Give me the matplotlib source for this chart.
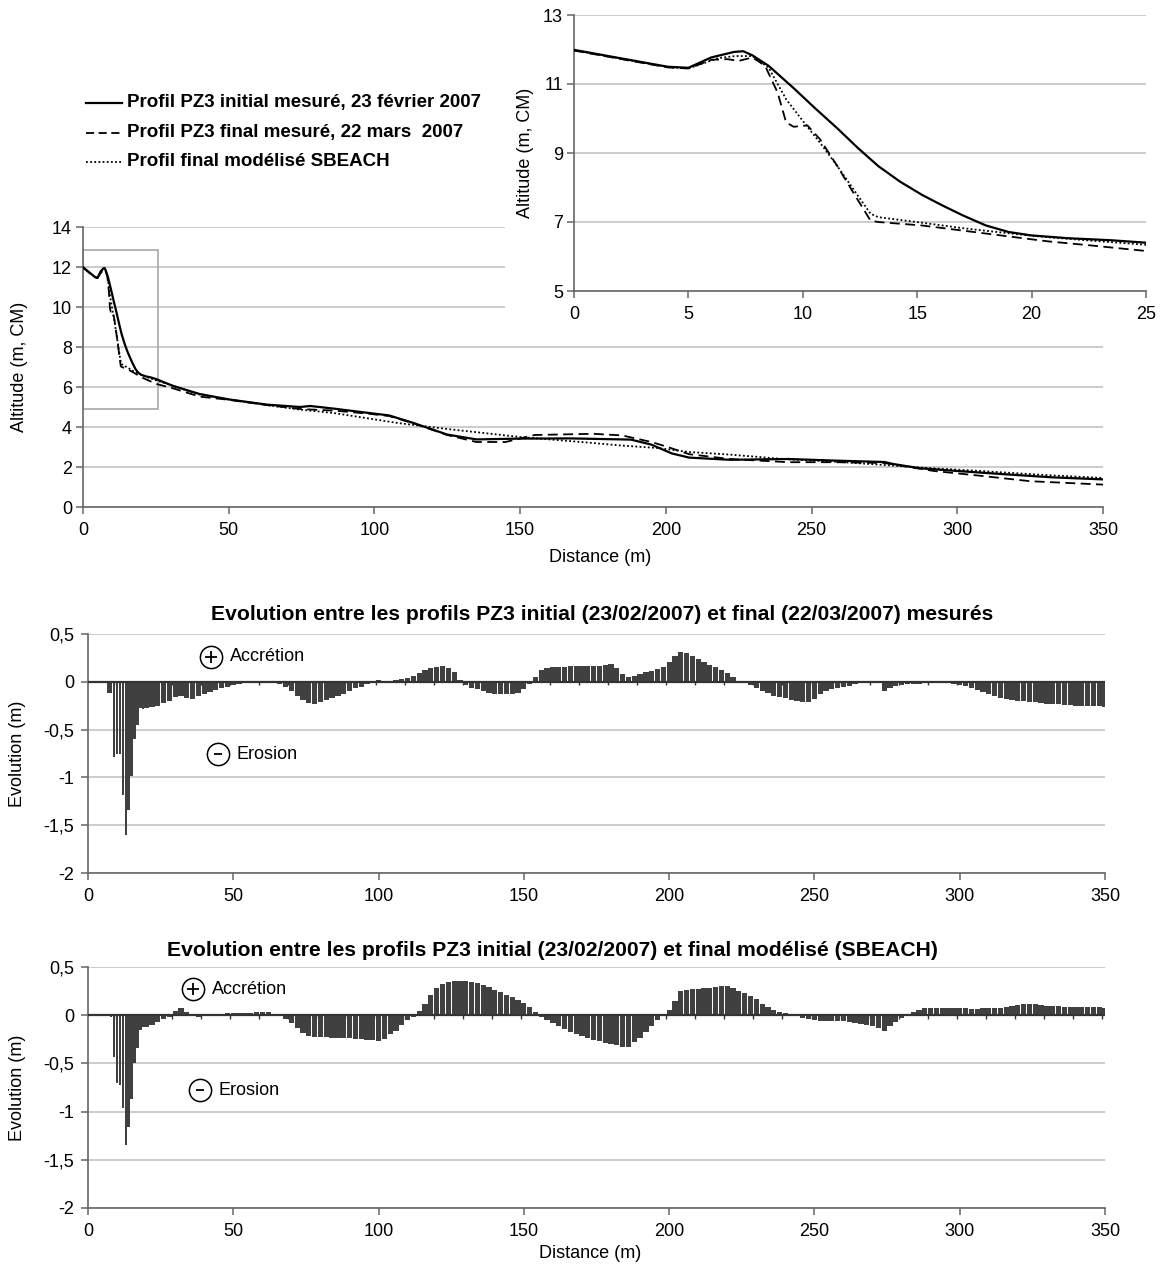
import numpy as np
import matplotlib
matplotlib.use('Agg')
import matplotlib.pyplot as plt
from matplotlib.patches import Rectangle
from matplotlib.lines import Line2D

plt.rcParams['font.family'] = ['Liberation Sans', 'DejaVu Sans']
plt.rcParams['font.size'] = 13

# ---- profils PZ3 (distance en m, altitude en m CM) ----
dist_init = [0, 2.25, 4.1, 5, 6, 7, 7.4, 7.8, 8.5, 9.6, 10.5, 11.5, 12.4, 13.3, 14.25,
             15.2, 16.1, 17, 18, 19, 20, 21.6, 23.5, 25, 31, 40, 50, 63, 74.5, 78,
             86, 97, 105, 113, 125, 135, 150, 167, 188, 195, 202, 208, 222, 242, 258,
             275, 278, 287, 300, 317, 333, 350]
alt_init = [11.99, 11.72, 11.5, 11.47, 11.77, 11.93, 11.95, 11.83, 11.53, 10.88, 10.32,
            9.72, 9.15, 8.62, 8.17, 7.79, 7.48, 7.19, 6.9, 6.71, 6.61, 6.53, 6.47, 6.4,
            6.05, 5.65, 5.38, 5.12, 5.0, 5.05, 4.92, 4.72, 4.58, 4.22, 3.62, 3.38, 3.42,
            3.43, 3.37, 3.12, 2.68, 2.47, 2.36, 2.4, 2.32, 2.25, 2.15, 1.94, 1.8, 1.63,
            1.48, 1.38]

dist_final = [0, 2.25, 4.1, 5, 6, 6.7, 7.2, 7.8, 8.35, 8.9, 9.27, 9.6, 10.2, 10.75,
              11.5, 12.2, 12.96, 13.3, 15.2, 17, 18.9, 20.7, 22.6, 25, 31, 40, 50, 63,
              74.5, 86, 97, 105, 113, 125, 135, 145, 155, 175, 185, 195, 200, 208, 222,
              242, 258, 275, 292, 308, 325, 350]
alt_final = [11.97, 11.7, 11.48, 11.45, 11.7, 11.72, 11.67, 11.77, 11.53, 10.75, 9.89,
             9.76, 9.8, 9.4, 8.63, 7.86, 7.04, 7.0, 6.9, 6.75, 6.59, 6.44, 6.32, 6.16,
             5.93, 5.52, 5.36, 5.1, 4.9, 4.82, 4.68, 4.55, 4.2, 3.6, 3.25, 3.25, 3.6,
             3.66, 3.58, 3.25, 3.03, 2.64, 2.4, 2.24, 2.24, 2.2, 1.8, 1.56, 1.29, 1.12]

dist_sbeach = [0, 2.25, 4.1, 5, 6.3, 7.05, 7.8, 8.5, 9.27, 10, 10.75, 11.5, 12.4, 12.96,
               13.3, 15.2, 17, 18.9, 20.7, 22.6, 25, 31, 40, 50, 63, 74.5, 86, 97, 108,
               125, 150, 175, 185, 197, 208, 222, 242, 258, 275, 290, 308, 330, 350]
alt_sbeach = [11.98, 11.71, 11.49, 11.45, 11.75, 11.81, 11.81, 11.48, 10.56, 9.93, 9.3,
              8.63, 7.77, 7.24, 7.14, 6.98, 6.82, 6.68, 6.56, 6.46, 6.34, 6.05, 5.62,
              5.38, 5.1, 4.87, 4.7, 4.45, 4.2, 3.9, 3.5, 3.2, 3.07, 2.95, 2.75, 2.62,
              2.38, 2.27, 2.1, 1.95, 1.8, 1.6, 1.45]

# ---- evolution (m) : 1 m jusqu'a 19 m, puis tous les 2 m ----
dist_evo = np.concatenate([np.arange(0, 20), np.arange(20, 351, 2)])

evo_mesure = [
    0, 0, 0, 0, 0, 0, 0, -0.12, -0.12, -0.79,
    -0.75, -0.76, -1.18, -1.6, -1.34, -0.99, -0.6, -0.45, -0.27, -0.28,
    # 20 -> 350 m
    -0.27, -0.26, -0.25, -0.22, -0.20, -0.16, -0.15, -0.17, -0.18, -0.15,
    -0.13, -0.11, -0.09, -0.07, -0.05, -0.03, -0.02, 0.00, 0.01, 0.01,
    0.01, 0.01, 0.00, -0.02, -0.05, -0.10, -0.15, -0.19, -0.22, -0.23,
    -0.21, -0.19, -0.17, -0.15, -0.13, -0.10, -0.07, -0.05, -0.02, -0.01,
    0.02, 0.01, 0.01, 0.02, 0.03, 0.035, 0.06, 0.09, 0.12, 0.14,
    0.16, 0.17, 0.14, 0.10, 0.02, -0.03, -0.06, -0.08, -0.10, -0.12,
    -0.13, -0.13, -0.13, -0.13, -0.12, -0.08, -0.02, 0.05, 0.12, 0.14,
    0.15, 0.15, 0.16, 0.17, 0.17, 0.17, 0.17, 0.17, 0.17, 0.18,
    0.19, 0.14, 0.08, 0.05, 0.06, 0.08, 0.10, 0.11, 0.13, 0.16,
    0.21, 0.27, 0.31, 0.30, 0.27, 0.24, 0.21, 0.18, 0.15, 0.12,
    0.09, 0.05, 0.01, -0.01, -0.03, -0.06, -0.10, -0.12, -0.15, -0.16,
    -0.17, -0.19, -0.20, -0.21, -0.21, -0.18, -0.13, -0.10, -0.08, -0.07,
    -0.05, -0.04, -0.02, -0.01, 0.01, 0.01, -0.01, -0.10, -0.06, -0.04,
    -0.03, -0.02, -0.02, -0.02, -0.01, 0.01, 0.01, 0.00, 0.00, -0.02,
    -0.03, -0.04, -0.06, -0.09, -0.11, -0.13, -0.15, -0.17, -0.18, -0.19,
    -0.20, -0.20, -0.21, -0.21, -0.22, -0.23, -0.23, -0.23, -0.24, -0.24,
    -0.25, -0.25, -0.25, -0.25, -0.25, -0.26]

evo_sbeach = [
    0.01, 0.01, 0.01, 0.01, 0.01, 0, 0, 0, -0.02, -0.43,
    -0.70, -0.72, -0.96, -1.35, -1.16, -0.87, -0.50, -0.34, -0.15, -0.12,
    # 20 -> 350 m
    -0.12, -0.10, -0.07, -0.04, -0.02, 0.04, 0.07, 0.03, -0.01, -0.02,
    -0.01, 0.00, 0.01, 0.015, 0.02, 0.02, 0.02, 0.025, 0.025, 0.03,
    0.03, 0.03, 0.01, 0.00, -0.04, -0.08, -0.13, -0.18, -0.22, -0.23,
    -0.23, -0.23, -0.24, -0.24, -0.24, -0.24, -0.25, -0.25, -0.26, -0.26,
    -0.27, -0.25, -0.20, -0.16, -0.10, -0.05, -0.02, 0.04, 0.12, 0.21,
    0.28, 0.32, 0.34, 0.35, 0.35, 0.35, 0.34, 0.33, 0.31, 0.29,
    0.26, 0.24, 0.21, 0.19, 0.16, 0.13, 0.09, 0.03, -0.02, -0.05,
    -0.08, -0.11, -0.14, -0.17, -0.20, -0.22, -0.24, -0.26, -0.27, -0.29,
    -0.30, -0.31, -0.33, -0.33, -0.28, -0.24, -0.17, -0.11, -0.05, 0.00,
    0.05, 0.15, 0.25, 0.26, 0.27, 0.27, 0.28, 0.28, 0.29, 0.30,
    0.30, 0.28, 0.25, 0.23, 0.20, 0.17, 0.12, 0.08, 0.05, 0.03,
    0.02, 0.01, 0.00, -0.03, -0.04, -0.045, -0.055, -0.06, -0.06, -0.065,
    -0.065, -0.07, -0.08, -0.09, -0.10, -0.11, -0.13, -0.16, -0.11, -0.07,
    -0.03, 0.01, 0.03, 0.05, 0.07, 0.075, 0.075, 0.07, 0.07, 0.07,
    0.07, 0.07, 0.065, 0.065, 0.07, 0.07, 0.07, 0.075, 0.09, 0.10,
    0.11, 0.12, 0.12, 0.12, 0.11, 0.10, 0.10, 0.10, 0.09, 0.09,
    0.09, 0.085, 0.08, 0.08, 0.08, 0.07]

legend_labels = ['Profil PZ3 initial mesuré, 23 février 2007',
                 'Profil PZ3 final mesuré, 22 mars  2007',
                 'Profil final modélisé SBEACH']
title_mesure = 'Evolution entre les profils PZ3 initial (23/02/2007) et final (22/03/2007) mesurés'
title_sbeach = 'Evolution entre les profils PZ3 initial (23/02/2007) et final modélisé (SBEACH)'

W, H = 1164, 1269
fig = plt.figure(figsize=(W / 100, H / 100), dpi=100)


def px_box(left, top, right, bottom):
    return [left / W, 1 - bottom / H, (right - left) / W, (bottom - top) / H]


spine_col = '#666666'
grid_col = '#c8c8c8'
ls_solid = '-'
ls_dash = (0, (5.5, 3))
ls_dot = (0, (1, 1.3))


def style_axes(ax, ypad=3):
    for s in ['top', 'right']:
        ax.spines[s].set_visible(False)
    for s in ['left', 'bottom']:
        ax.spines[s].set_color(spine_col)
        ax.spines[s].set_linewidth(1.2)
    ax.tick_params(axis='both', direction='out', length=5, width=1.1,
                   color=spine_col, labelsize=13)
    ax.tick_params(axis='x', pad=6)
    ax.tick_params(axis='y', pad=ypad)
    ax.yaxis.grid(True, color=grid_col, lw=1.3)
    ax.set_axisbelow(True)


def draw_profiles(ax):
    ax.plot(dist_init, alt_init, color='black', lw=1.6, ls=ls_solid, zorder=3)
    ax.plot(dist_final, alt_final, color='black', lw=1.3, ls=ls_dash, zorder=3)
    ax.plot(dist_sbeach, alt_sbeach, color='black', lw=1.3, ls=ls_dot, zorder=3)


# ---- profil complet ----
ax1 = fig.add_axes(px_box(83, 227, 1103, 507))
ax1.set_zorder(0)
style_axes(ax1)
draw_profiles(ax1)
ax1.set_xlim(0, 350)
ax1.set_ylim(0, 14)
ax1.set_xticks(range(0, 351, 50))
ax1.set_yticks(range(0, 15, 2))
ax1.add_patch(Rectangle((0, 4.9), 25.6, 7.95, fill=False, ec='#a8a8a8', lw=1.2, zorder=2))
fig.text(600 / W, 1 - 558 / H, 'Distance (m)', ha='center', va='center', fontsize=13)
fig.text(20 / W, 1 - 367 / H, 'Altitude (m, CM)', ha='center', va='center',
         rotation=90, fontsize=13)

# fond blanc sous l'encart
fig.add_artist(Rectangle((505 / W, 1 - 330 / H), 1, 1, transform=fig.transFigure,
                         fc='white', ec='none', zorder=1))

# ---- encart 0-25 m ----
axz = fig.add_axes(px_box(574, 15, 1146, 291))
axz.set_zorder(2)
style_axes(axz)
draw_profiles(axz)
axz.set_xlim(0, 25)
axz.set_ylim(5, 13)
axz.set_xticks(range(0, 26, 5))
axz.set_yticks(range(5, 14, 2))
fig.text(525 / W, 1 - 153 / H, 'Altitude (m, CM)', ha='center', va='center',
         rotation=90, fontsize=13)

# ---- legende ----
leg_styles = [(ls_solid, 1.6), ((0, (4.5, 2.5)), 1.3), (ls_dot, 1.3)]
for i, (lab, (ls, lw)) in enumerate(zip(legend_labels, leg_styles)):
    yy = 1 - (103 + 29.5 * i) / H
    fig.add_artist(Line2D([86 / W, 122 / W], [yy, yy], color='black', lw=lw, ls=ls))
    fig.text(127 / W, yy, lab, ha='left', va='center', fontsize=13.5, fontweight='bold')


# ---- histogrammes d'evolution ----
bar_w = np.where(dist_evo < 20, 0.85, 1.8)


def draw_evolution(box, values, title, title_x, title_y, plus_pos, minus_pos, xlabel):
    ax = fig.add_axes(px_box(*box))
    style_axes(ax, ypad=5)
    ax.bar(dist_evo, values, width=bar_w, color='#404040', lw=0, zorder=2)
    ax.axhline(0, color='#333333', lw=1.6, zorder=3)
    ax.vlines(np.arange(9, 350, 10), -0.035, 0, color='#333333', lw=1, zorder=1)
    ax.set_xlim(0, 350)
    ax.set_ylim(-2, 0.5)
    ax.set_xticks(range(0, 351, 50))
    yt = [0.5, 0, -0.5, -1, -1.5, -2]
    ax.set_yticks(yt)
    ax.set_yticklabels([('%g' % v).replace('.', ',') for v in yt])
    # signes entoures
    for (x, y), mk, msz, word in [(plus_pos, '+', 8, 'Accrétion'),
                                  (minus_pos, '_', 6, 'Erosion')]:
        ax.plot(x, y, marker='o', ms=16, mfc='white', mec='black', mew=1.1, zorder=5)
        ax.plot(x, y, marker=mk, ms=msz, color='black', mew=1.3, zorder=6)
        ax.text(x + 6.5, y, word, ha='left', va='center', fontsize=13)
    fig.text(title_x / W, 1 - title_y / H, title, ha='center', va='center',
             fontsize=15.2, fontweight='bold')
    fig.text(18 / W, 1 - (box[1] + box[3]) / 2 / H, 'Evolution (m)', ha='center',
             va='center', rotation=90, fontsize=13)
    if xlabel:
        fig.text(590 / W, 1 - 1254 / H, 'Distance (m)', ha='center', va='center',
                 fontsize=13)
    return ax


draw_evolution((88, 634, 1105, 873), evo_mesure, title_mesure, 602, 615,
               (42.3, 0.26), (44.7, -0.76), False)
draw_evolution((88, 967, 1105, 1208), evo_sbeach, title_sbeach, 552, 950,
               (36.1, 0.27), (38.5, -0.78), True)

fig.savefig('out.png', dpi=100, facecolor='white')
